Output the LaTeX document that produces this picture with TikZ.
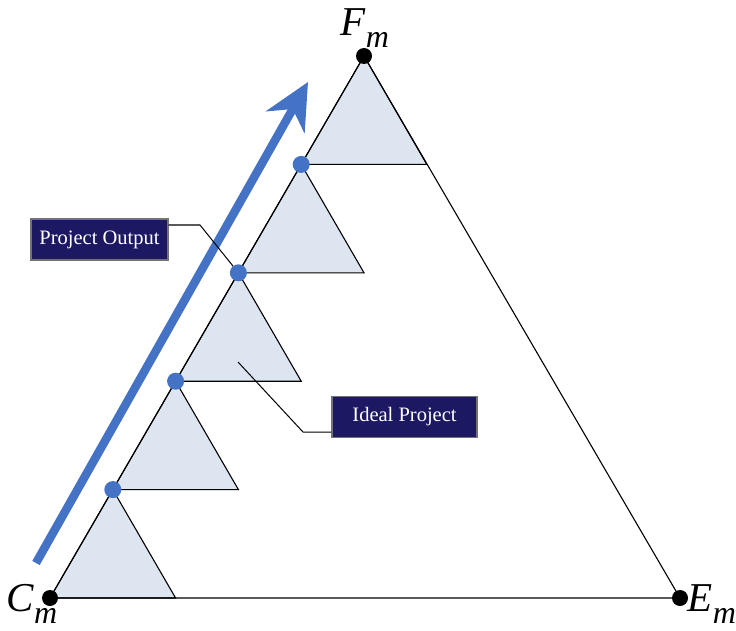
\documentclass[tikz,border=0pt]{standalone}
\usepackage{fontspec}
\setmainfont{Liberation Serif}
\usetikzlibrary{calc,arrows.meta}
\definecolor{trifill}{HTML}{DDE5F0}
\definecolor{dotblue}{HTML}{4472C4}
\definecolor{navy}{HTML}{1C1862}
\tikzset{
  smalltri/.style={fill=trifill,draw=black,line width=1.1pt,line join=miter},
  bigtri/.style={draw=black,line width=1.1pt},
  bluedot/.style={circle,fill=dotblue,inner sep=0pt,minimum size=17pt},
  blackdot/.style={circle,fill=black,inner sep=0pt,minimum size=16pt},
  labelbox/.style={fill=navy,draw=black!55,line width=1.2pt,text=white,inner sep=0pt,
    minimum height=41pt,font=\fontsize{20.5}{24}\selectfont},
  leader/.style={draw=black,line width=1pt},
  vlabel/.style={inner sep=0pt,font=\fontsize{41}{44}\selectfont\itshape},
}
\newcommand{\subm}{\raisebox{-12pt}{\fontsize{32}{32}\selectfont m}}
\begin{document}
\begin{tikzpicture}[x=1pt,y=-1pt]
\useasboundingbox (0,0) rectangle (736,631);
\coordinate (C) at (50,598);
\coordinate (F) at (364,56);
\coordinate (E) at (680,598);
% small triangles
\foreach \i in {0,...,4}{
  \pgfmathsetmacro{\a}{\i/5}
  \pgfmathsetmacro{\b}{(\i+1)/5}
  \coordinate (L\i) at ($(C)!\a!(F)$);
  \coordinate (A\i) at ($(C)!\b!(F)$);
  \coordinate (R\i) at ($(L\i)+(125.6,0)$);
  \draw[smalltri] (L\i) -- (A\i) -- (R\i) -- cycle;
}
% big triangle
\draw[bigtri] (C) -- (F) -- (E) -- cycle;
% blue arrow
\coordinate (arS) at (36,563);
\coordinate (arE) at (308,82);
\draw[dotblue,line width=8.5pt,-{Stealth[length=46pt,width=44pt,inset=15pt]}] (arS) -- (arE);
% boxes
\node[labelbox,minimum width=137pt] (po) at (99.5,239.5) {Project Output};
\node[labelbox,minimum width=145pt] (ip) at (404.5,417) {Ideal Project};
\coordinate (poK) at (200,225);
\coordinate (ipK) at (303,432);
\coordinate (ipT) at (238,362);
\draw[leader] (po.east |- poK) -- (poK) -- (A2);
\draw[leader] (ip.west |- ipK) -- (ipK) -- (ipT);
% dots
\foreach \i in {0,...,3}{ \node[bluedot] (d\i) at (A\i) {}; }
\node[blackdot] (nC) at (C) {};
\node[blackdot] (nF) at (F) {};
\node[blackdot] (nE) at (E) {};
% vertex labels
\node[vlabel] (lF) at (365,28) {F\subm};
\node[vlabel] (lC) at (32,604) {C\subm};
\node[vlabel] (lE) at (712,604) {E\subm};
\end{tikzpicture}
\end{document}
